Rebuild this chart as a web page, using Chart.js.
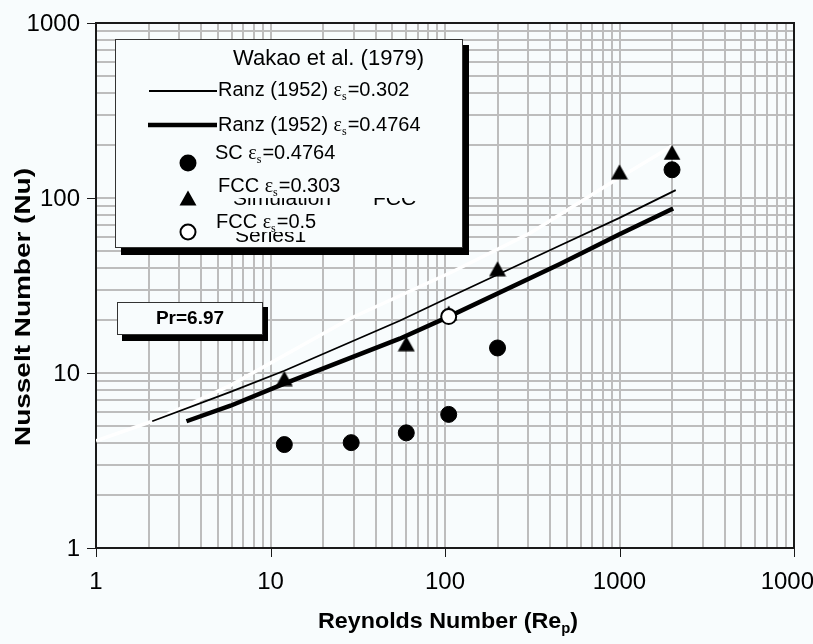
<!DOCTYPE html>
<html lang="en">
<head>
<meta charset="UTF-8">
<title>Nusselt Number vs Reynolds Number</title>
<style>
  html, body { margin: 0; padding: 0; background: #f8fcfd; overflow: hidden; }
  #wrap { width: 813px; height: 644px; }
</style>
<script src="https://cdn.jsdelivr.net/npm/chart.js"></script>
</head>
<body>
<div id="wrap"><canvas id="nuChart" width="813" height="644"></canvas></div>
<script>
// tick labels
const xTickLabels = ['1', '10', '100', '1000', '10000'];
const yTickLabels = ['1', '10', '100', '1000'];

// Wakao et al. (1979) -- drawn in white in the original
const wakaoRe = [1, 2.1, 5.9, 28.6, 111, 307, 904, 2000];
const wakaoNu = [4.1, 5.3, 8.5, 20.5, 38, 63, 123, 198];

// Ranz (1952) eps=0.302 (thin line)
const ranz302Re = [2.1, 5.9, 12, 55, 105, 456, 1000, 2100];
const ranz302Nu = [5.3, 7.8, 10.3, 19.9, 27, 53.5, 77, 111];

// Ranz (1952) eps=0.4764 (thick line)
const ranz4764Re = [3.3, 5.9, 12, 55, 105, 456, 1000, 2030];
const ranz4764Nu = [5.3, 6.5, 8.7, 15.7, 21, 42, 62, 87];

// simulation points
const scRe = [12, 29, 60, 105, 200, 2000];
const scNu = [3.9, 4.0, 4.55, 5.8, 13.9, 145];
const fcc303Re = [12, 60, 105, 200, 1000, 2000];
const fcc303Nu = [9.3, 14.7, 22, 39.4, 141, 182];
const fcc05Re = [105];
const fcc05Nu = [21];

const BG = '#f8fcfd';
const GRID = '#bdbdbd';
const SANS = '"Liberation Sans", Arial, sans-serif';
const SERIF = '"Liberation Serif", "Times New Roman", serif';

const pts = (xs, ys) => xs.map((x, i) => ({ x: x, y: ys[i] }));

// triangle marker centred on its bounding box (like Excel)
const tri = document.createElement('canvas');
tri.width = 18; tri.height = 16;
(function () {
    const c = tri.getContext('2d');
    c.fillStyle = '#000';
    c.beginPath();
    c.moveTo(9, 0.5);
    c.lineTo(17.5, 15.5);
    c.lineTo(0.5, 15.5);
    c.closePath();
    c.fill();
})();

// grid lines at 1..9 x 10^n
function logTicks(maxExp) {
    const t = [];
    for (let e = 0; e < maxExp; e++) {
        for (let s = 1; s < 10; s++) t.push({ value: s * Math.pow(10, e) });
    }
    t.push({ value: Math.pow(10, maxExp) });
    return t;
}

function epsText(ctx, x, y, pre, post, size) {
    ctx.font = size + 'px ' + SANS;
    ctx.fillText(pre, x, y);
    x += ctx.measureText(pre).width;
    ctx.font = size + 'px ' + SERIF;
    ctx.fillText('\u03b5', x, y);
    x += ctx.measureText('\u03b5').width;
    ctx.font = Math.round(size * 0.62) + 'px ' + SERIF;
    ctx.fillText('s', x, y + 4);
    x += ctx.measureText('s').width + 1;
    ctx.font = size + 'px ' + SANS;
    ctx.fillText(post, x, y);
}

const framePlugin = {
    id: 'frame',
    beforeDatasetsDraw(chart) {
        const ctx = chart.ctx, a = chart.chartArea;
        const xs = chart.scales.x, ys = chart.scales.y;
        ctx.save();
        ctx.strokeStyle = '#1a1a1a';
        ctx.lineWidth = 2;
        ctx.strokeRect(a.left, a.top, a.right - a.left, a.bottom - a.top);
        ctx.lineWidth = 1;
        ctx.beginPath();
        xTickLabels.forEach(l => {
            const px = Math.round(xs.getPixelForValue(Number(l))) + 0.5;
            ctx.moveTo(px, a.bottom); ctx.lineTo(px, a.bottom + 9);
        });
        yTickLabels.forEach(l => {
            const py = Math.round(ys.getPixelForValue(Number(l))) + 0.5;
            ctx.moveTo(a.left - 9, py); ctx.lineTo(a.left, py);
        });
        ctx.stroke();
        ctx.restore();
    }
};

const decorPlugin = {
    id: 'decor',
    afterDraw(chart) {
        const ctx = chart.ctx;
        const xs = chart.scales.x, ys = chart.scales.y;
        ctx.save();
        ctx.fillStyle = '#000';

        // tick labels
        ctx.font = '24px ' + SANS;
        ctx.textBaseline = 'middle';
        ctx.textAlign = 'center';
        xTickLabels.forEach(l => ctx.fillText(l, xs.getPixelForValue(Number(l)), 582));
        ctx.textAlign = 'right';
        yTickLabels.forEach(l => ctx.fillText(l, 80, ys.getPixelForValue(Number(l)) + 1));

        // axis titles
        ctx.textAlign = 'left';
        ctx.textBaseline = 'alphabetic';
        const xMain = 'Reynolds Number (Re', xEnd = ')';
        ctx.font = 'bold 22px ' + SANS;
        let w1 = ctx.measureText(xMain).width;
        ctx.font = 'bold 14px ' + SANS;
        let w2 = ctx.measureText('p').width;
        ctx.font = 'bold 22px ' + SANS;
        let w3 = ctx.measureText(xEnd).width;
        let tw = w1 + w2 + w3;
        ctx.save();
        ctx.translate(448 - 130, 628);
        ctx.scale(260 / tw, 1);
        ctx.fillText(xMain, 0, 0);
        ctx.font = 'bold 14px ' + SANS;
        ctx.fillText('p', w1, 5);
        ctx.font = 'bold 22px ' + SANS;
        ctx.fillText(xEnd, w1 + w2, 0);
        ctx.restore();

        const yTitle = 'Nusselt Number (Nu)';
        ctx.font = 'bold 22px ' + SANS;
        tw = ctx.measureText(yTitle).width;
        ctx.save();
        ctx.translate(30, 307);
        ctx.rotate(-Math.PI / 2);
        ctx.scale(278 / tw, 1);
        ctx.textAlign = 'center';
        ctx.fillText(yTitle, 0, 0);
        ctx.restore();

        // legend box with shadow
        ctx.fillStyle = '#000';
        ctx.fillRect(121, 45, 348, 210);
        ctx.fillStyle = BG;
        ctx.fillRect(115, 39, 348, 209);
        ctx.strokeStyle = '#333';
        ctx.lineWidth = 1;
        ctx.strokeRect(115.5, 39.5, 347, 208);

        ctx.fillStyle = '#000';
        ctx.font = '22px ' + SANS;
        ctx.fillText('Wakao et al. (1979)', 233, 65);

        // text partly hidden behind the other entries
        ctx.font = '21px ' + SANS;
        ctx.fillText('Simulation', 233, 205);
        ctx.fillText('FCC', 373, 205);
        ctx.fillText('Series1', 235, 242);
        ctx.fillStyle = BG;
        ctx.fillRect(212, 168, 245, 30);
        ctx.fillRect(212, 207, 245, 25);

        ctx.strokeStyle = '#000';
        ctx.lineWidth = 1.8;
        ctx.beginPath(); ctx.moveTo(149, 91); ctx.lineTo(217, 91); ctx.stroke();
        ctx.lineWidth = 4.5;
        ctx.beginPath(); ctx.moveTo(148, 125); ctx.lineTo(217, 125); ctx.stroke();

        ctx.fillStyle = '#000';
        ctx.beginPath(); ctx.arc(188, 163, 8.5, 0, Math.PI * 2); ctx.fill();
        ctx.drawImage(tri, 188 - 9, 198 - 8);
        ctx.fillStyle = '#fff';
        ctx.lineWidth = 2;
        ctx.beginPath(); ctx.arc(188, 232, 7.5, 0, Math.PI * 2); ctx.fill(); ctx.stroke();

        ctx.fillStyle = '#000';
        epsText(ctx, 218, 96, 'Ranz (1952) ', '=0.302', 20);
        epsText(ctx, 218, 131, 'Ranz (1952) ', '=0.4764', 20);
        epsText(ctx, 215, 159, 'SC ', '=0.4764', 20);
        epsText(ctx, 218, 192, 'FCC ', '=0.303', 20);
        epsText(ctx, 216, 228, 'FCC ', '=0.5', 20);

        // Pr box
        ctx.fillStyle = '#000';
        ctx.fillRect(122, 307, 146, 34);
        ctx.fillStyle = BG;
        ctx.fillRect(117, 302, 146, 33);
        ctx.strokeStyle = '#333';
        ctx.lineWidth = 1;
        ctx.strokeRect(117.5, 302.5, 145, 32);
        ctx.fillStyle = '#000';
        ctx.font = 'bold 19px ' + SANS;
        ctx.textAlign = 'center';
        ctx.fillText('Pr=6.97', 190, 324);
        ctx.restore();
    }
};

new Chart(document.getElementById('nuChart'), {
    type: 'scatter',
    data: {
        datasets: [
            {
                label: 'FCC eps=0.5',
                data: pts(fcc05Re, fcc05Nu),
                pointRadius: 7.5,
                pointBackgroundColor: '#fff',
                pointBorderColor: '#000',
                pointBorderWidth: 2,
                order: 0
            },
            {
                label: 'FCC eps=0.303',
                data: pts(fcc303Re, fcc303Nu),
                pointStyle: tri,
                order: 1
            },
            {
                label: 'SC eps=0.4764',
                data: pts(scRe, scNu),
                pointRadius: 8,
                pointBackgroundColor: '#000',
                pointBorderColor: '#000',
                pointBorderWidth: 1,
                order: 2
            },
            {
                label: 'Ranz (1952) eps=0.4764',
                data: pts(ranz4764Re, ranz4764Nu),
                showLine: true,
                borderColor: '#000',
                borderWidth: 4.5,
                pointRadius: 0,
                order: 3
            },
            {
                label: 'Ranz (1952) eps=0.302',
                data: pts(ranz302Re, ranz302Nu),
                showLine: true,
                borderColor: '#000',
                borderWidth: 1.8,
                pointRadius: 0,
                order: 4
            },
            {
                label: 'Wakao et al. (1979)',
                data: pts(wakaoRe, wakaoNu),
                showLine: true,
                borderColor: '#ffffff',
                borderWidth: 3.5,
                pointRadius: 0,
                order: 5
            }
        ]
    },
    options: {
        responsive: false,
        animation: false,
        events: [],
        layout: { padding: { left: 96, right: 19, top: 23, bottom: 96 } },
        plugins: { legend: { display: false }, tooltip: { enabled: false } },
        scales: {
            x: {
                type: 'logarithmic',
                min: 1,
                max: 10000,
                afterBuildTicks: s => { s.ticks = logTicks(4); },
                ticks: { display: false },
                grid: { color: GRID, lineWidth: 2, drawTicks: false },
                border: { display: false }
            },
            y: {
                type: 'logarithmic',
                min: 1,
                max: 1000,
                afterBuildTicks: s => { s.ticks = logTicks(3); },
                ticks: { display: false },
                grid: { color: GRID, lineWidth: 2, drawTicks: false },
                border: { display: false }
            }
        }
    },
    plugins: [framePlugin, decorPlugin]
});
</script>
</body>
</html>
